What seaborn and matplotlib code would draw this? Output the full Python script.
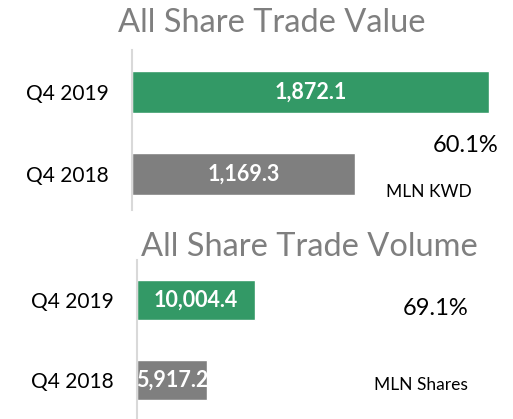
import numpy as np
import pandas as pd
import seaborn as sns
import matplotlib.pyplot as plt

# data
quarters = ["Q4 2019", "Q4 2018"]
trade_value = [1872.1, 1169.3]      # MLN KWD
trade_volume = [10004.4, 5917.2]    # MLN Shares
bar_colors = ["#339966", "#7f7f7f"]

sns.set_theme(style="white")
plt.rcParams["font.family"] = ["Lato", "DejaVu Sans"]

W, H = 513, 419
fig = plt.figure(figsize=(W / 100, H / 100), dpi=100)


def px_axes(left, top, right, bottom):
    return fig.add_axes([left / W, 1 - bottom / H, (right - left) / W, (bottom - top) / H])


def draw_panel(ax, values, xmax, ylim, bar_h):
    df = pd.DataFrame({"quarter": quarters, "value": values})
    sns.barplot(data=df, y="quarter", x="value", hue="quarter",
                palette=dict(zip(quarters, bar_colors)), orient="h",
                width=bar_h, legend=False, ax=ax, saturation=1)
    ax.set_xlim(0, xmax)
    ax.set_ylim(*ylim)
    ax.set_xlabel("")
    ax.set_ylabel("")
    ax.set_xticks([])
    ax.tick_params(axis="y", length=0, pad=17, labelsize=15, labelcolor="black")
    for s in ["top", "right", "bottom"]:
        ax.spines[s].set_visible(False)
    ax.spines["left"].set_color("#d9d9d9")
    ax.spines["left"].set_linewidth(1.5)
    for cont in ax.containers:
        texts = ax.bar_label(cont, labels=[f"{v:,.1f}" for v in cont.datavalues],
                             label_type="center", color="white",
                             fontsize=15.5, fontweight="bold")
        # long labels get cut off at the bar end, like in the original
        for t, p in zip(texts, cont.patches):
            t.set_clip_path(p)


ax1 = px_axes(132, 50, 500, 210)
draw_panel(ax1, trade_value, 368 / (357 / trade_value[0]), (1.44, -0.51), 0.51)

ax2 = px_axes(137, 260, 500, 419)
draw_panel(ax2, trade_volume, 363 / (118 / trade_volume[0]), (1.49, -0.5), 0.5)

# titles and notes
fig.text(272 / W, 1 - 32 / H, "All Share Trade Value", ha="center", va="baseline",
         fontsize=23.5, color="#7f7f7f")
fig.text(309 / W, 1 - 256 / H, "All Share Trade Volume", ha="center", va="baseline",
         fontsize=23.5, color="#7f7f7f")

chg_value = (trade_value[0] / trade_value[1] - 1) * 100
chg_volume = (trade_volume[0] / trade_volume[1] - 1) * 100
fig.text(498 / W, 1 - 152 / H, f"{chg_value:.1f}%", ha="right", va="baseline",
         fontsize=17, color="black")
fig.text(472 / W, 1 - 197 / H, "MLN KWD", ha="right", va="baseline",
         fontsize=12.5, color="black")
fig.text(468 / W, 1 - 315 / H, f"{chg_volume:.1f}%", ha="right", va="baseline",
         fontsize=17, color="black")
fig.text(468 / W, 1 - 390 / H, "MLN Shares", ha="right", va="baseline",
         fontsize=12.5, color="black")

fig.savefig("out.png", dpi=100)
